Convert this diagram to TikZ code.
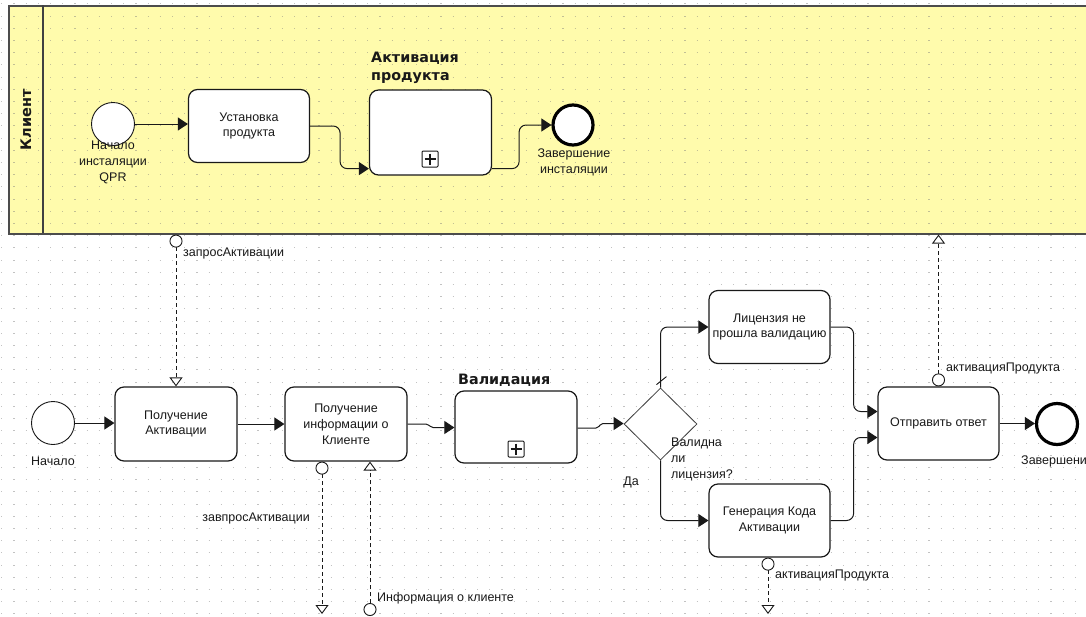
\documentclass[tikz,border=0pt]{standalone}
\usepackage{fontspec}
\setmainfont{Liberation Sans}
\newfontfamily\boldlab{DejaVu Sans}
\usetikzlibrary{arrows.meta,shapes.geometric}
\definecolor{poolfill}{RGB}{255,251,172}
\definecolor{ink}{RGB}{25,25,25}
\definecolor{gridc}{RGB}{120,120,120}
\begin{document}
\begin{tikzpicture}[x=1pt,y=-1pt,
  every node/.style={font=\fontsize{12.5}{15.8}\selectfont, text=ink},
  task/.style={draw=ink, line width=1.2pt, rounded corners=9pt, fill=white,
    minimum width=121pt, minimum height=73pt, align=center, inner sep=0pt},
  startev/.style={circle, draw=ink, line width=0.9pt, fill=white, minimum size=43pt, inner sep=0pt},
  endev/.style={circle, draw=black, line width=3.2pt, fill=white, minimum size=40pt, inner sep=0pt},
  gw/.style={diamond, draw=ink!85, line width=0.8pt, fill=white, minimum width=73pt, minimum height=72pt, inner sep=0pt},
  seq/.style={draw=ink, line width=1pt, rounded corners=7pt, -{Triangle[length=10pt,width=13pt]}},
  msg/.style={draw=ink, line width=0.9pt, dash pattern=on 4pt off 3pt,
    {Circle[length=13pt,width=13pt,fill=white,line width=0.9pt]}-{Triangle[length=9pt,width=13pt,fill=white,line width=0.9pt]}},
  lbl/.style={inner sep=0pt, align=center},
  bold/.style={inner sep=0pt, align=left, font=\boldlab\bfseries\fontsize{14.3}{18}\selectfont},
  marker/.style={draw=ink, line width=1pt, rounded corners=1pt, minimum size=16pt, inner sep=0pt, fill=white}
]
\useasboundingbox (0,0) rectangle (1086,616);
\fill[white] (0,0) rectangle (1086,616);
% pool
\node[draw=black!70, line width=1.6pt, fill=poolfill, minimum width=1100pt, minimum height=228pt,
  anchor=north west, inner sep=0pt] (pool) at (8,5) {};
\draw[black!75, line width=1.4pt] (43,5) -- (43,233);
% grid dots
\foreach \yy in {3.9,16.1,...,616} {
  \draw[gridc, opacity=0.45, line width=1.1pt, dash pattern=on 1.1pt off 11.1pt] (1.2,\yy) -- (1086,\yy);
}
\node[rotate=90, font=\boldlab\bfseries\fontsize{14.5}{15}\selectfont] (hdr) at (26,120) {Клиент};

% ---- pool content
\node[startev] (startA) at (113,124) {};
\node[lbl, anchor=north] (startAl) at (113,141) {Начало\\инсталяции\\QPR};
\node[task] (inst) at (249,126) {Установка\\продукта};
\node[task, minimum height=85pt, minimum width=122pt] (act) at (430.5,132.5) {};
\node[bold, anchor=north west] (actl) at (371,52) {Активация\\продукта};
\node[marker] (pm1) at (430,159) {};
\draw[ink, line width=1.1pt] ([yshift=-3pt]pm1.north) -- ([yshift=3pt]pm1.south)
  ([xshift=3pt]pm1.west) -- ([xshift=-3pt]pm1.east);
\node[endev] (endA) at (573,125) {};
\node[lbl, anchor=north] (endAl) at (574,149) {Завершение\\инсталяции};

\draw[seq] (startA.east) -- (inst.west |- startA.east);
\draw[seq] (inst.east) -- ++(30,0) |- ([yshift=7pt]act.south west);
\draw[seq] ([yshift=7pt]act.south east) -- ++(27,0) |- (endA.west);

% ---- lower process
\node[startev] (startB) at (53,423) {};
\node[lbl] (startBl) at (53,461) {Начало};
\node[task, minimum width=122pt, minimum height=74pt] (recv) at (176,424) {Получение\\Активации};
\node[task, minimum width=122pt, minimum height=74pt] (info) at (346,424) {Получение\\информации о\\Клиенте};
\node[task, minimum width=122pt, minimum height=72pt] (valid) at (516,427) {};
\node[bold, anchor=west] (validl) at (458,380) {Валидация};
\node[marker] (pm2) at (516,449) {};
\draw[ink, line width=1.1pt] ([yshift=-3pt]pm2.north) -- ([yshift=3pt]pm2.south)
  ([xshift=3pt]pm2.west) -- ([xshift=-3pt]pm2.east);
\node[gw] (gw) at (660.5,424) {};
\node[lbl, align=left, anchor=north west] (gwl) at (671,438) {Валидна\\ли\\лицензия?};
\node[lbl] (yes) at (631,482) {Да};
\node[task] (lic) at (769.5,327) {Лицензия не\\прошла валидацию};
\node[task] (gen) at (769.5,520.5) {Генерация Кода\\Активации};
\node[task] (send) at (938.5,423.5) {Отправить ответ};
\node[endev, minimum size=41pt] (endB) at (1057,424) {};
\node[lbl, anchor=west] (endBl) at (1021,461) {Завершение};

\draw[seq] (startB.east) -- (recv.west |- startB.east);
\draw[seq] (recv.east) -- (info.west);
\draw[seq, rounded corners=2pt] (info.east) -- (428,424) -- (431,427.5) -- (valid.west |- 0,427.5);
\draw[seq, rounded corners=2pt] (valid.east |- 0,428) -- (598,428) -- (601,423.5) -- (gw.west |- 0,423.5);
\draw[seq] (gw.north) |- (lic.west);
\draw[seq] (gw.south) |- (gen.west);
\draw[seq] (lic.east) -- ++(23,0) |- ([yshift=12pt]send.west);
\draw[seq] (gen.east) -- ++(23,0) |- ([yshift=-14pt]send.west);
\draw[seq] (send.east) -- (endB.west |- send.east);
% default flow slash
\draw[ink, line width=0.9pt] ([shift={(-4,-3)}]gw.north) -- ([shift={(6,-11)}]gw.north);

% ---- message flows
\coordinate (b1) at (322,614);
\coordinate (b2) at (370,616);
\coordinate (b3) at (768,614);
\draw[msg] (pool.south -| recv.north) -- (recv.north);
\draw[msg] (info.south -| b1) -- (b1);
\draw[msg] (b2) -- (info.south -| b2);
\draw[msg] (gen.south -| b3) -- (b3);
\draw[msg] (send.north) -- (pool.south -| send.north);

\node[lbl, anchor=west] (m1) at (183,253) {запросАктивации};
\node[lbl, anchor=east] (m2) at (310,518) {завпросАктивации};
\node[lbl, anchor=west] (m3) at (377,598) {Информация о клиенте};
\node[lbl, anchor=west] (m4) at (775,575) {активацияПродукта};
\node[lbl, anchor=west] (m5) at (946,368) {активацияПродукта};
\end{tikzpicture}
\end{document}
